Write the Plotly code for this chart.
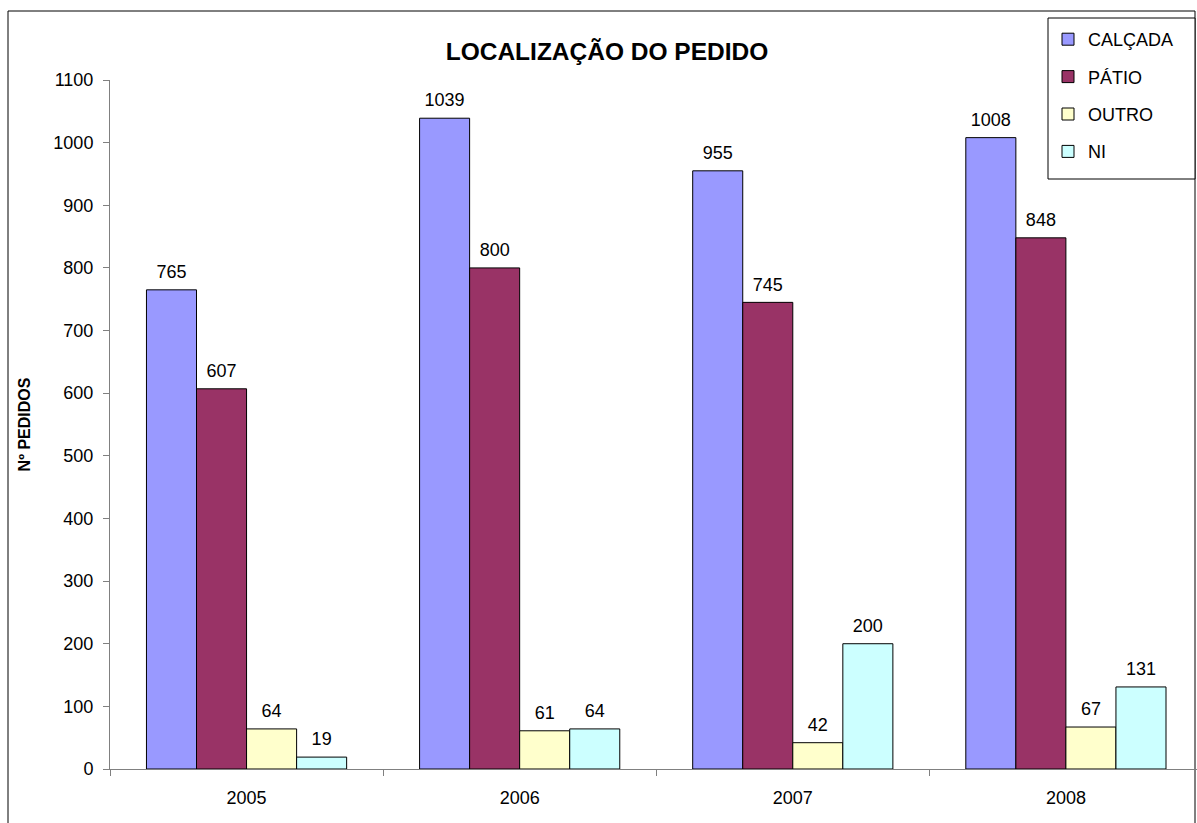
import plotly.graph_objects as go

years = ["2005", "2006", "2007", "2008"]
calcada = [765, 1039, 955, 1008]
patio = [607, 800, 745, 848]
outro = [64, 61, 42, 67]
ni = [19, 64, 200, 131]

series = [
    ("CALÇADA", calcada, "#9999FF"),
    ("PÁTIO", patio, "#993366"),
    ("OUTRO", outro, "#FFFFCC"),
    ("NI", ni, "#CCFFFF"),
]

FONT = "Liberation Sans, Arial, sans-serif"

fig = go.Figure()
for i, (name, vals, col) in enumerate(series):
    fig.add_trace(go.Bar(
        x=years, y=vals, name=name, legendgroup=f"g{i}",
        marker=dict(color=col, line=dict(color="black", width=1)),
        texttemplate="<span style='font-size:18px'>%{y}</span><br><span style='color:rgba(0,0,0,0)'>.</span>",
        textposition="outside", constraintext="none",
        textfont=dict(family=FONT, size=6, color="black"),
        cliponaxis=False,
    ))

W, H = 1197, 823
ml, mr, mt, mb = 110, 0, 80, 54
pw = W - ml - mr
ph = H - mt - mb

def px(x):
    return (x - ml) / pw

def py(y):
    return (H - mb - y) / ph

fig.update_layout(
    width=W, height=H,
    margin=dict(l=ml, r=mr, t=mt, b=mb, autoexpand=False),
    paper_bgcolor="white", plot_bgcolor="white",
    barmode="group", bargap=0.267, bargroupgap=0,
    font=dict(family=FONT, size=18, color="black"),
    title=dict(text="<b>LOCALIZAÇÃO DO PEDIDO</b>", x=607 / W, xanchor="center",
               y=1 - 51 / H, yanchor="middle",
               font=dict(family=FONT, size=24.5, color="black")),
    showlegend=True,
    legend=dict(x=px(1048), y=py(21), xanchor="left", yanchor="top",
                borderwidth=0, bgcolor="rgba(0,0,0,0)",
                tracegroupgap=11, font=dict(family=FONT, size=18),
                traceorder="grouped"),
    xaxis=dict(type="category", range=[-0.5, 3.48], showline=True, linecolor="#808080",
               linewidth=1, ticks="outside", tickson="boundaries", ticklen=6,
               tickcolor="#808080", showgrid=False, ticklabelstandoff=12,
               tickfont=dict(family=FONT, size=18), automargin=False),
    yaxis=dict(range=[0, 1100], dtick=100, showline=True, linecolor="#808080",
               linewidth=1, ticks="outside", ticklen=6, tickcolor="#808080",
               showgrid=False, zeroline=False, ticklabelstandoff=6, automargin=False,
               tickfont=dict(family=FONT, size=18),
               title=dict(text="<b>Nº PEDIDOS</b>", standoff=18,
                          font=dict(family=FONT, size=16))),
    shapes=[
        dict(type="rect", xref="paper", yref="paper",
             x0=px(8), x1=px(1195), y0=py(840), y1=py(11),
             line=dict(color="black", width=1), fillcolor="rgba(0,0,0,0)",
             layer="below"),
        dict(type="rect", xref="paper", yref="paper",
             x0=px(1048), x1=px(1195), y0=py(179), y1=py(18),
             line=dict(color="black", width=1), fillcolor="white",
             layer="above"),
    ],
)

fig.write_html("out.html", config={"displayModeBar": False},
               post_script="document.body.style.margin='0';document.body.style.overflow='hidden';")
